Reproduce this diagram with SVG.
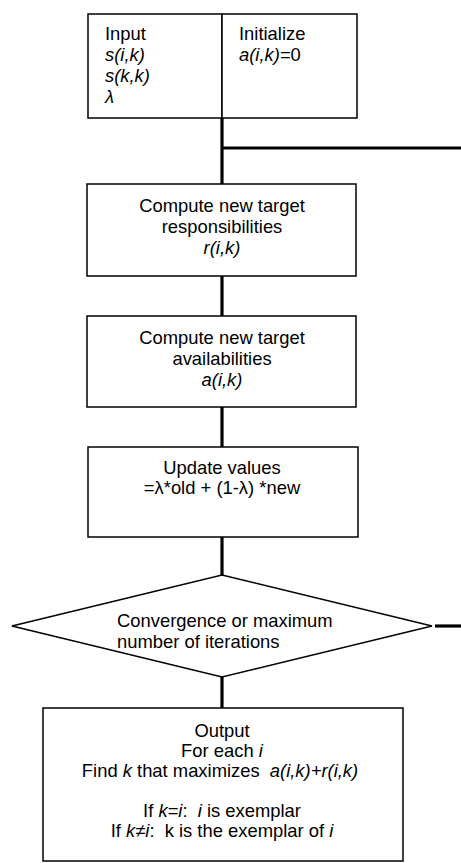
<svg xmlns="http://www.w3.org/2000/svg" width="461" height="863" viewBox="0 0 461 863">
<style>
  .box { fill: #fff; stroke: #000; stroke-width: 1.5; }
  .conn { fill: none; stroke: #000; stroke-width: 3.2; }
  text { font-family: "Liberation Sans", Arial, sans-serif; font-size: 18.4px; fill: #000; }
  .c { text-anchor: middle; }
  .i { font-style: italic; }
</style>
<rect width="461" height="863" fill="#fff"/>
<g id="connectors">
  <line class="conn" x1="222" y1="118" x2="222" y2="184"/>
  <line class="conn" x1="222" y1="148" x2="461" y2="148"/>
  <line class="conn" x1="222" y1="276" x2="222" y2="316"/>
  <line class="conn" x1="222" y1="407" x2="222" y2="447"/>
  <line class="conn" x1="222" y1="537" x2="222" y2="575"/>
  <line class="conn" x1="435" y1="626" x2="461" y2="626"/>
  <line class="conn" x1="222" y1="677" x2="222" y2="708"/>
</g>
<g id="input">
  <rect class="box" x="88" y="14" width="134" height="104"/>
  <text x="105" y="40">Input</text>
  <text x="105" y="61" class="i">s(i,k)</text>
  <text x="105" y="82" class="i">s(k,k)</text>
  <text x="105" y="103" class="i">λ</text>
</g>
<g id="initialize">
  <rect class="box" x="222" y="14" width="135" height="104"/>
  <text x="239" y="40">Initialize</text>
  <text x="239" y="61"><tspan class="i">a(i,k)</tspan>=0</text>
</g>
<g id="responsibilities">
  <rect class="box" x="87" y="184" width="269" height="92"/>
  <text class="c" x="222" y="211.5">Compute new target</text>
  <text class="c" x="222" y="232.5">responsibilities</text>
  <text class="c i" x="222" y="253.5">r(i,k)</text>
</g>
<g id="availabilities">
  <rect class="box" x="87" y="316" width="269" height="91"/>
  <text class="c" x="222" y="343.5">Compute new target</text>
  <text class="c" x="222" y="364.5">availabilities</text>
  <text class="c i" x="222" y="385.5">a(i,k)</text>
</g>
<g id="update">
  <rect class="box" x="88" y="447" width="270" height="90"/>
  <text class="c" x="222" y="473.5">Update values</text>
  <text class="c" x="222" y="494">=λ*old + (1-λ) *new</text>
</g>
<g id="convergence">
  <polygon class="box" points="222,575 432,626 222,677 12,626"/>
  <text x="117" y="627">Convergence or maximum</text>
  <text x="117" y="648">number of iterations</text>
</g>
<g id="output">
  <rect class="box" x="43" y="708" width="360" height="153"/>
  <text class="c" x="222" y="736.5">Output</text>
  <text class="c" x="222" y="756.5">For each <tspan class="i">i</tspan></text>
  <text class="c" x="220" y="776.5">Find <tspan class="i">k</tspan> that maximizes <tspan class="i" dx="5">a(i,k)+r(i,k)</tspan></text>
  <text class="c" x="222" y="816.5">If <tspan class="i">k=i</tspan>: <tspan class="i" dx="5">i</tspan> is exemplar</text>
  <text class="c" x="222" y="836.5">If <tspan class="i">k≠i</tspan>: <tspan dx="5">k is the exemplar of </tspan><tspan class="i">i</tspan></text>
</g>
</svg>
